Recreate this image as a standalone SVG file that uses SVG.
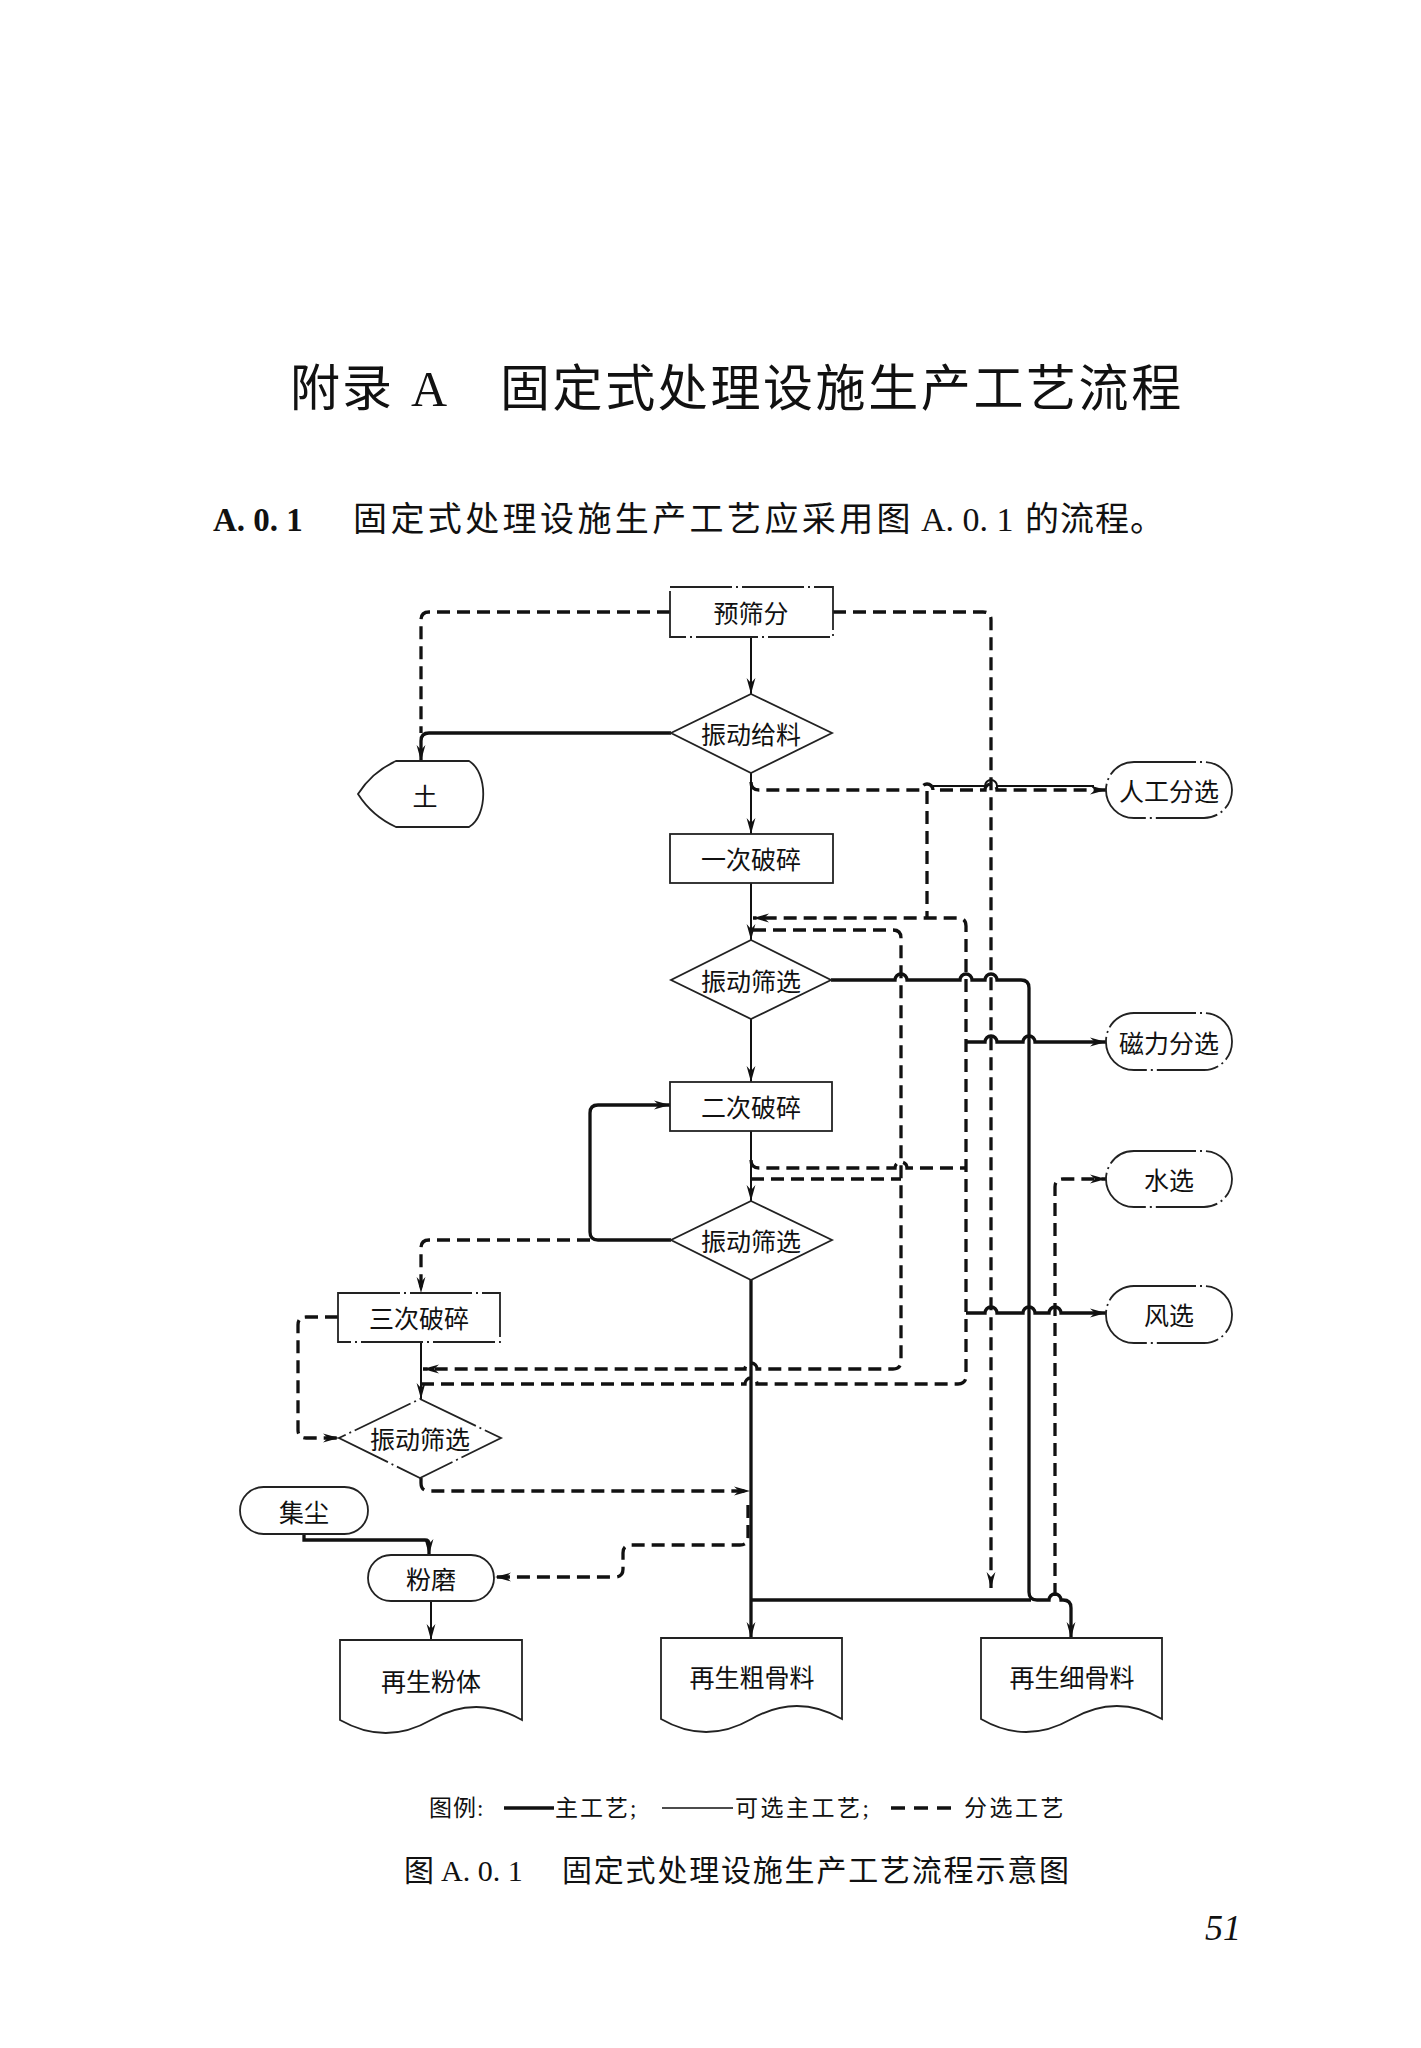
<svg xmlns="http://www.w3.org/2000/svg" width="1421" height="2048" viewBox="0 0 1421 2048">
<defs>
<marker id="ah" markerUnits="userSpaceOnUse" markerWidth="17" markerHeight="10" refX="16" refY="5" orient="auto">
<path d="M0,0.6 L16,5 L0,9.4 L5,5 Z" fill="#111"/>
</marker>
<style>
.n{fill:#fff;stroke:#222;stroke-width:1.8}
.opt{stroke-dasharray:62 4 2 4}
.t{font-family:"Noto Sans CJK SC",sans-serif;font-size:25px;text-anchor:middle;dominant-baseline:central;fill:#111}
.thin{fill:none;stroke:#111;stroke-width:2}
.thick{fill:none;stroke:#111;stroke-width:3.3}
.dash{fill:none;stroke:#111;stroke-width:3.3;stroke-dasharray:13 7}
.ser{font-family:"Liberation Serif","Noto Sans CJK SC",serif;fill:#111}
</style>
</defs>
<rect width="1421" height="2048" fill="#fff"/>

<g id="heading">
<text class="ser" x="290" y="406" font-size="50" letter-spacing="2">附录</text>
<text class="ser" x="411" y="406" font-size="50">A</text>
<text class="ser" x="500" y="406" font-size="50" letter-spacing="2.6">固定式处理设施生产工艺流程</text>
<text class="ser" x="213" y="531" font-size="33" font-weight="bold">A. 0. 1</text>
<text class="ser" x="353" y="531" font-size="34" letter-spacing="3.4">固定式处理设施生产工艺应采用图</text>
<text class="ser" x="921" y="531" font-size="34">A. 0. 1</text>
<text class="ser" x="1025" y="531" font-size="34" letter-spacing="1">的流程。</text>
</g>

<g id="connectors">
<path class="thin" d="M751,637 V694" marker-end="url(#ah)"/>
<path class="dash" d="M670,612 H429 Q421,612 421,620 V733"/>
<path class="thick" d="M671,733 H429 Q421,733 421,741 V761" marker-end="url(#ah)"/>
<path class="dash" d="M833,612 H983 Q991,612 991,620 V1588" marker-end="url(#ah)"/>
<path class="thin" d="M751,773 V834" marker-end="url(#ah)"/>
<path class="dash" d="M751,782 Q751,790 759,790 H921 A6,6 0 0 1 933,790 H985 A6,6 0 0 1 997,790 H1106" marker-end="url(#ah)"/>
<path class="thin" d="M933,786 H985 A6,6 0 0 1 997,786 H1094"/>
<path class="dash" d="M927,791 V918"/>
<path class="thin" d="M751,883 V940" marker-end="url(#ah)"/>
<path class="dash" d="M421,1384 H745 A6,6 0 0 1 757,1384 H958 Q966,1384 966,1376 V926 Q966,918 958,918 H753" marker-end="url(#ah)"/>
<path class="dash" d="M753,930 H893 Q901,930 901,938 V1361 Q901,1369 893,1369 H757 A6,6 0 0 0 745,1369 H423" marker-end="url(#ah)"/>
<path class="thick" d="M831,980 H895 A6,6 0 0 1 907,980 H960 A6,6 0 0 1 972,980 H985 A6,6 0 0 1 997,980 H1021 Q1029,980 1029,988 V1592 Q1029,1600 1037,1600 H1049 A6,6 0 0 1 1061,1600 H1063 Q1071,1600 1071,1608 V1638" marker-end="url(#ah)"/>
<path class="thin" d="M751,1019 V1082" marker-end="url(#ah)"/>
<path class="thick" d="M966,1042 H985 A6,6 0 0 1 997,1042 H1023 A6,6 0 0 1 1035,1042 H1106" marker-end="url(#ah)"/>
<path class="thin" d="M751,1131 V1201" marker-end="url(#ah)"/>
<path class="dash" d="M751,1160 Q751,1168 759,1168 H895 A6,6 0 0 1 907,1168 H966"/>
<path class="dash" d="M751,1179 H901"/>
<path class="dash" d="M1055,1596 V1187 Q1055,1179 1063,1179 H1106" marker-end="url(#ah)"/>
<path class="thick" d="M671,1240 H598 Q590,1240 590,1232 V1113 Q590,1105 598,1105 H670" marker-end="url(#ah)"/>
<path class="dash" d="M590,1240 H429 Q421,1240 421,1248 V1293" marker-end="url(#ah)"/>
<path class="thick" d="M966,1313 H985 A6,6 0 0 1 997,1313 H1023 A6,6 0 0 1 1035,1313 H1049 A6,6 0 0 1 1061,1313 H1106" marker-end="url(#ah)"/>
<path class="thick" d="M751,1280 V1638" marker-end="url(#ah)"/>
<path class="thick" d="M751,1600 H1031"/>
<path class="thin" d="M421,1342 V1399" marker-end="url(#ah)"/>
<path class="dash" d="M338,1317 H306 Q298,1317 298,1325 V1430 Q298,1438 306,1438 H339" marker-end="url(#ah)"/>
<path class="dash" d="M421,1478 V1483 Q421,1491 429,1491 H750" marker-end="url(#ah)"/>
<path class="thick" d="M304,1534 V1540 H425 Q429,1540 429,1544 V1555" marker-end="url(#ah)"/>
<path class="dash" d="M748,1505 V1537 Q748,1545 740,1545 H631 Q623,1545 623,1553 V1569 Q623,1577 615,1577 H495" marker-end="url(#ah)"/>
<path class="thin" d="M431,1601 V1640" marker-end="url(#ah)"/>
</g>

<g id="n-yushaifen"><rect class="n opt" x="670" y="587" width="163" height="50"/><text class="t" x="751" y="612">预筛分</text></g>
<g id="n-geiliao"><path class="n" d="M751,694 L832,733 L751,773 L671,733 Z"/><text class="t" x="751" y="733">振动给料</text></g>
<g id="n-tu"><path class="n" d="M396,761 H469 C488,772 488,816 469,827 H396 Q372,816 358,794 Q372,772 396,761 Z"/><text class="t" x="425" y="795">土</text></g>
<g id="n-rengong"><rect class="n opt" x="1106" y="762" width="126" height="56" rx="28"/><text class="t" x="1169" y="790">人工分选</text></g>
<g id="n-posui1"><rect class="n" x="670" y="834" width="163" height="49"/><text class="t" x="751" y="858">一次破碎</text></g>
<g id="n-shaixuan1"><path class="n" d="M751,940 L831,980 L751,1019 L671,980 Z"/><text class="t" x="751" y="980">振动筛选</text></g>
<g id="n-cili"><rect class="n opt" x="1106" y="1013" width="126" height="57" rx="28"/><text class="t" x="1169" y="1042">磁力分选</text></g>
<g id="n-posui2"><rect class="n" x="670" y="1082" width="162" height="49"/><text class="t" x="751" y="1106">二次破碎</text></g>
<g id="n-shuixuan"><rect class="n opt" x="1106" y="1151" width="126" height="56" rx="28"/><text class="t" x="1169" y="1179">水选</text></g>
<g id="n-shaixuan2"><path class="n" d="M751,1201 L832,1240 L751,1280 L671,1240 Z"/><text class="t" x="751" y="1240">振动筛选</text></g>
<g id="n-fengxuan"><rect class="n opt" x="1106" y="1286" width="126" height="57" rx="28"/><text class="t" x="1169" y="1314">风选</text></g>
<g id="n-posui3"><rect class="n opt" x="338" y="1293" width="162" height="49"/><text class="t" x="419" y="1317">三次破碎</text></g>
<g id="n-shaixuan3"><path class="n opt" d="M420,1399 L501,1438 L420,1478 L339,1438 Z"/><text class="t" x="420" y="1438">振动筛选</text></g>
<g id="n-jichen"><rect class="n" x="240" y="1487" width="128" height="47" rx="23.5"/><text class="t" x="304" y="1511">集尘</text></g>
<g id="n-fenmo"><rect class="n" x="368" y="1555" width="126" height="46" rx="23"/><text class="t" x="431" y="1578">粉磨</text></g>
<g id="n-fenti"><path class="n" d="M340,1640 H522 V1720 Q476,1694 431,1720 Q386,1746 340,1720 Z"/><text class="t" x="431" y="1680">再生粉体</text></g>
<g id="n-cugu"><path class="n" d="M661,1638 H842 V1719 Q797,1693 751.5,1719 Q706,1745 661,1719 Z"/><text class="t" x="752" y="1676">再生粗骨料</text></g>
<g id="n-xigu"><path class="n" d="M981,1638 H1162 V1719 Q1117,1693 1071.5,1719 Q1026,1745 981,1719 Z"/><text class="t" x="1072" y="1676">再生细骨料</text></g>

<g id="legend">
<text class="ser" x="429" y="1816" font-size="23" letter-spacing="1">图例:</text>
<line x1="504" y1="1808" x2="554" y2="1808" stroke="#111" stroke-width="3.4"/>
<text class="ser" x="555" y="1816" font-size="23" letter-spacing="2">主工艺;</text>
<line x1="662" y1="1808" x2="733" y2="1808" stroke="#111" stroke-width="1.6"/>
<text class="ser" x="735" y="1816" font-size="23" letter-spacing="2.5">可选主工艺;</text>
<line x1="891" y1="1808" x2="952" y2="1808" stroke="#111" stroke-width="3.4" stroke-dasharray="14 9"/>
<text class="ser" x="964" y="1816" font-size="23" letter-spacing="2.5">分选工艺</text>
</g>

<g id="caption">
<text class="ser" x="404" y="1881" font-size="30">图</text>
<text class="ser" x="441" y="1881" font-size="30">A. 0. 1</text>
<text class="ser" x="562" y="1881" font-size="30" letter-spacing="1.8">固定式处理设施生产工艺流程示意图</text>
<text class="ser" x="1205" y="1940" font-size="36" font-style="italic">51</text>
</g>
</svg>
